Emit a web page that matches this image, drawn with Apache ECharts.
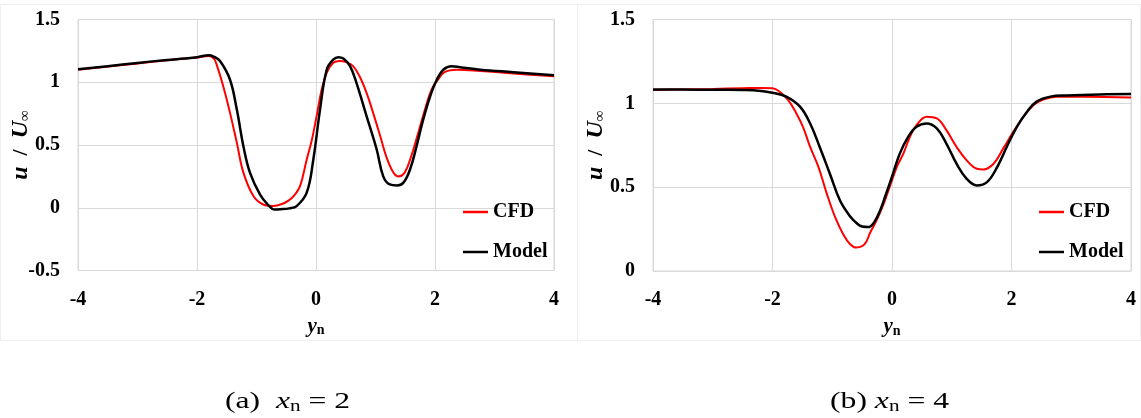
<!DOCTYPE html>
<html>
<head>
<meta charset="utf-8">
<script src="https://cdn.jsdelivr.net/npm/echarts@6/dist/echarts.min.js"></script>
<style>
  html, body { margin: 0; padding: 0; background: #ffffff; }
  #chart { width: 1141px; height: 418px; }
</style>
</head>
<body>
<div id="chart"></div>
<script>
// Streamwise velocity profiles u/U∞ across the wake, two downstream stations.
const xTicks = [-4, -2, 0, 2, 4];

// (a) x_n = 2
const aCfdX = [-4, -3.5, -3, -2.5, -2.2, -2, -1.81, -1.72, -1.67, -1.56, -1.445, -1.33, -1.22, -1.05, -0.885, -0.72, -0.55, -0.437, -0.38, -0.27, -0.156, -0.07, 0.01, 0.095, 0.18, 0.29, 0.40, 0.51, 0.62, 0.73, 0.85, 0.96, 1.08, 1.18, 1.30, 1.38, 1.49, 1.60, 1.72, 1.83, 1.94, 2.05, 2.16, 2.36, 2.76, 3.32, 4.0];
const aCfdY = [1.10, 1.125, 1.15, 1.175, 1.19, 1.197, 1.21, 1.19, 1.14, 0.97, 0.756, 0.517, 0.28, 0.092, 0.026, 0.013, 0.034, 0.066, 0.09, 0.17, 0.385, 0.54, 0.73, 0.94, 1.075, 1.155, 1.17, 1.16, 1.13, 1.05, 0.915, 0.756, 0.57, 0.41, 0.28, 0.25, 0.28, 0.41, 0.60, 0.78, 0.94, 1.02, 1.08, 1.10, 1.09, 1.07, 1.048];
const aModelX = [-4, -3.5, -3, -2.5, -2.2, -2, -1.9, -1.81, -1.72, -1.61, -1.445, -1.33, -1.22, -1.11, -0.94, -0.8, -0.7, -0.6, -0.45, -0.325, -0.156, -0.045, 0.067, 0.18, 0.29, 0.375, 0.46, 0.57, 0.68, 0.85, 1.02, 1.13, 1.24, 1.36, 1.47, 1.58, 1.69, 1.80, 1.92, 2.03, 2.14, 2.28, 2.42, 2.76, 3.32, 4.0];
const aModelY = [1.103, 1.128, 1.154, 1.178, 1.19, 1.20, 1.21, 1.215, 1.205, 1.167, 1.02, 0.78, 0.49, 0.28, 0.105, 0.02, -0.014, -0.012, -0.005, 0.013, 0.12, 0.385, 0.78, 1.10, 1.18, 1.20, 1.19, 1.13, 0.995, 0.73, 0.464, 0.25, 0.186, 0.178, 0.2, 0.305, 0.49, 0.70, 0.89, 1.02, 1.10, 1.127, 1.12, 1.10, 1.08, 1.056];
const aYTicks = [-0.5, 0, 0.5, 1, 1.5];

// (b) x_n = 4
const bCfdX = [-4, -3.5, -3, -2.5, -2.2, -2, -1.88, -1.74, -1.6, -1.49, -1.37, -1.23, -1.09, -0.95, -0.81, -0.7, -0.6, -0.5, -0.43, -0.37, -0.26, -0.14, -0.03, 0.08, 0.19, 0.30, 0.41, 0.58, 0.75, 0.91, 1.08, 1.25, 1.42, 1.53, 1.70, 1.86, 2.03, 2.20, 2.37, 2.53, 2.76, 3.2, 4.0];
const bCfdY = [1.08, 1.083, 1.086, 1.09, 1.092, 1.09, 1.069, 1.02, 0.94, 0.86, 0.74, 0.62, 0.46, 0.32, 0.215, 0.16, 0.14, 0.148, 0.175, 0.225, 0.30, 0.40, 0.51, 0.62, 0.70, 0.80, 0.87, 0.92, 0.91, 0.84, 0.74, 0.66, 0.61, 0.606, 0.64, 0.73, 0.83, 0.92, 0.99, 1.023, 1.039, 1.039, 1.035];
const bModelX = [-4, -3.5, -3, -2.5, -2.32, -2.0, -1.77, -1.54, -1.37, -1.21, -1.04, -0.87, -0.71, -0.59, -0.5, -0.4, -0.3, -0.2, -0.1, 0.0, 0.13, 0.27, 0.41, 0.58, 0.75, 0.91, 1.08, 1.25, 1.42, 1.59, 1.76, 1.92, 2.09, 2.26, 2.42, 2.65, 2.92, 3.48, 4.0];
const bModelY = [1.083, 1.082, 1.081, 1.08, 1.078, 1.063, 1.04, 0.98, 0.88, 0.74, 0.58, 0.42, 0.33, 0.285, 0.265, 0.262, 0.29, 0.36, 0.46, 0.562, 0.70, 0.80, 0.86, 0.88, 0.85, 0.76, 0.64, 0.55, 0.51, 0.53, 0.62, 0.74, 0.86, 0.95, 1.01, 1.04, 1.047, 1.053, 1.055];
const bYTicks = [0, 0.5, 1, 1.5];

const seriesNames = ['CFD', 'Model'];
const captions = ['(a)  ', '(b) '];
const stations = ['2', '4'];

const zip = (xs, ys) => xs.map((x, i) => [x, ys[i]]);

const SERIF = '"Liberation Serif", "Times New Roman", serif';
const GRID_COLOR = '#d9d9d9';

function xAxisFor(gridIndex) {
  return {
    type: 'value', gridIndex,
    min: xTicks[0], max: xTicks[xTicks.length - 1], interval: 2,
    axisLine: { show: false }, axisTick: { show: false },
    splitLine: { lineStyle: { color: GRID_COLOR, width: 1 } },
    axisLabel: { color: '#000', fontFamily: SERIF, fontWeight: 'bold', fontSize: 20, margin: 19 },
    name: '{i|y}{s|n}', nameLocation: 'middle', nameGap: 45,
    nameTextStyle: {
      rich: {
        i: { fontFamily: SERIF, fontWeight: 'bold', fontStyle: 'italic', fontSize: 21, color: '#000' },
        s: { fontFamily: SERIF, fontWeight: 'bold', fontSize: 14, color: '#000', verticalAlign: 'bottom', padding: [8, 0, 0, 0] }
      }
    }
  };
}

function yAxisFor(gridIndex, ticks) {
  return {
    type: 'value', gridIndex,
    min: ticks[0], max: ticks[ticks.length - 1], interval: 0.5,
    axisLine: { show: false }, axisTick: { show: false },
    splitLine: { lineStyle: { color: GRID_COLOR, width: 1 } },
    axisLabel: { color: '#000', fontFamily: SERIF, fontWeight: 'bold', fontSize: 20, margin: 18,
      formatter: v => String(v) },
    name: '{i|u}{b|  /  }{i|U}{s|∞}', nameLocation: 'middle', nameGap: 45, nameRotate: 90,
    nameMoveOverlap: false,
    nameTextStyle: {
      rich: {
        i: { fontFamily: SERIF, fontWeight: 'bold', fontStyle: 'italic', fontSize: 24, color: '#000' },
        b: { fontFamily: SERIF, fontWeight: 'bold', fontSize: 22, color: '#000' },
        s: { fontFamily: SERIF, fontWeight: 'bold', fontSize: 15, color: '#000', verticalAlign: 'bottom', padding: [9, 0, 0, 0] }
      }
    }
  };
}

function lineSeries(name, data, color, width, idx) {
  return {
    name, type: 'line', xAxisIndex: idx, yAxisIndex: idx,
    data, showSymbol: false, symbol: 'none', smooth: 0.4,
    lineStyle: { color, width }, itemStyle: { color },
    z: name === 'Model' ? 3 : 2, silent: true, animation: false
  };
}

function legendFor(left) {
  return {
    left, top: 202, orient: 'vertical', itemGap: 20, padding: 0,
    itemWidth: 25, itemHeight: 2.5, icon: 'rect',
    data: seriesNames.map(n => ({ name: n })),
    textStyle: { fontFamily: SERIF, fontWeight: 'bold', fontSize: 20, color: '#000' },
    selectedMode: false
  };
}

function caption(x, i) {
  return {
    type: 'text', x, y: 402, scaleX: 1.32,
    style: {
      x: 0, y: 0, verticalAlign: 'middle',
      text: '{r|' + captions[i] + '}{i|x}{s|n}{r| = ' + stations[i] + '}',
      rich: {
        r: { fontFamily: SERIF, fontSize: 24, fill: '#000' },
        i: { fontFamily: SERIF, fontStyle: 'italic', fontSize: 24, fill: '#000' },
        s: { fontFamily: SERIF, fontSize: 16, fill: '#000', verticalAlign: 'bottom', padding: [9, 0, 0, 0] }
      }
    }
  };
}

const chart = echarts.init(document.getElementById('chart'), null, { renderer: 'canvas' });
chart.setOption({
  backgroundColor: '#ffffff',
  animation: false,
  grid: [
    { left: 78, top: 19.5, width: 476, height: 251, show: true, borderColor: GRID_COLOR, borderWidth: 1, backgroundColor: 'transparent' },
    { left: 653, top: 19.5, width: 478, height: 251.5, show: true, borderColor: GRID_COLOR, borderWidth: 1, backgroundColor: 'transparent' }
  ],
  xAxis: [xAxisFor(0), xAxisFor(1)],
  yAxis: [yAxisFor(0, aYTicks), yAxisFor(1, bYTicks)],
  legend: [legendFor(463), legendFor(1039)],
  series: [
    lineSeries('CFD', zip(aCfdX, aCfdY), '#ff0000', 2, 0),
    lineSeries('Model', zip(aModelX, aModelY), '#000000', 2.5, 0),
    lineSeries('CFD', zip(bCfdX, bCfdY), '#ff0000', 2, 1),
    lineSeries('Model', zip(bModelX, bModelY), '#000000', 2.5, 1)
  ],
  graphic: [
    { type: 'rect', shape: { x: 0.5, y: 4.5, width: 577, height: 336 }, style: { fill: 'none', stroke: '#efefef', lineWidth: 1 }, z: -1 },
    { type: 'rect', shape: { x: 577.5, y: 4.5, width: 563, height: 336 }, style: { fill: 'none', stroke: '#efefef', lineWidth: 1 }, z: -1 },
    caption(225, 0),
    caption(830, 1)
  ]
});
</script>
</body>
</html>
